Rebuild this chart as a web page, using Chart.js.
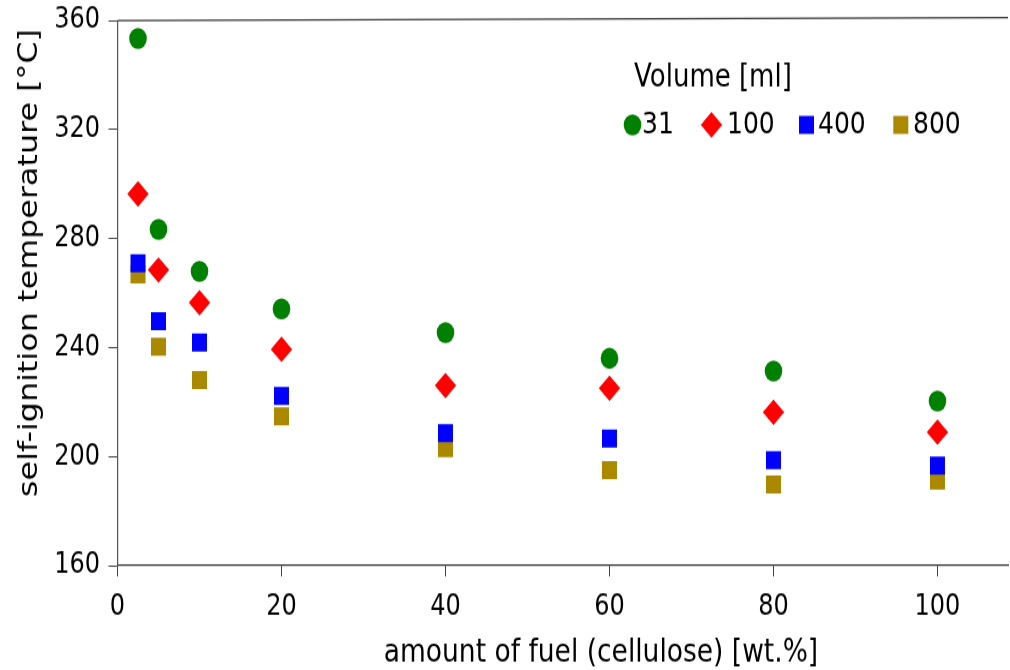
<!DOCTYPE html>
<html>
<head>
<meta charset="utf-8">
<script src="https://cdn.jsdelivr.net/npm/chart.js@4/dist/chart.umd.min.js"></script>
<style>
html, body { margin: 0; padding: 0; background: #fff; width: 1010px; height: 670px; overflow: hidden; }
#outer { position: relative; width: 1010px; height: 670px; overflow: visible; }
#wrap { position: absolute; left: 0; top: 0; width: 1010px; height: 558px; transform: scaleY(1.2007); transform-origin: 0 0; }
</style>
</head>
<body>
<div id="outer"><div id="wrap"><canvas id="chart" width="1010" height="558"></canvas></div></div>
<script>
'use strict';
let fuelAmounts = [2.5, 5, 10, 20, 40, 60, 80, 100];
let temps31  = [353.5, 283.4, 268.0, 254.2, 245.5, 236.1, 231.4, 220.4];
let temps100 = [296.4, 268.5, 256.5, 239.4, 226.1, 225.1, 216.3, 209.0];
let temps400 = [271.0, 249.7, 241.9, 222.3, 208.6, 206.6, 198.7, 196.7];
let temps800 = [266.9, 240.4, 228.1, 214.8, 203.1, 195.1, 189.8, 191.2];
let volumes = ['31', '100', '400', '800'];
let xTicks = [0, 20, 40, 60, 80, 100];
let yTicks = [160, 200, 240, 280, 320, 360];
let xTitle = 'amount of fuel (cellulose) [wt.%]';
let yTitle = 'self-ignition temperature [°C]';
let legendTitle = 'Volume [ml]';

let seriesStyle = [
    {color: '#008000', shape: 'circle',  radius: 8.8},
    {color: '#ff0000', shape: 'rectRot', radius: 10.7},
    {color: '#0000ff', shape: 'rect',    radius: 10.6},
    {color: '#aa8800', shape: 'rect',    radius: 10.6},
];
let seriesValues = [temps31, temps100, temps400, temps800];

Chart.defaults.font.family = '"DejaVu Sans", sans-serif';
Chart.defaults.color = '#000';

function makeDataset(i){
    let st = seriesStyle[i];
    return {
        label: volumes[i],
        data: fuelAmounts.map((x, k) => ({x: x, y: seriesValues[i][k]})),
        showLine: false,
        pointStyle: st.shape,
        pointRadius: st.radius,
        pointBorderWidth: 0,
        backgroundColor: st.color,
        borderColor: st.color,
    };
}

function drawMarker(ctx, shape, r, x, y){
    ctx.beginPath();
    if(shape === 'circle'){
        ctx.arc(x, y, r, 0, Math.PI * 2);
    }
    else if(shape === 'rectRot'){
        ctx.moveTo(x, y - r); ctx.lineTo(x + r, y); ctx.lineTo(x, y + r); ctx.lineTo(x - r, y);
        ctx.closePath();
    }
    else{
        let h = r * Math.SQRT1_2;
        ctx.rect(x - h, y - h, 2 * h, 2 * h);
    }
    ctx.fill();
}

let decorPlugin = {
    id: 'decor',
    afterDraw(chart){
        let ctx = chart.ctx;
        let a = chart.chartArea;
        ctx.save();
        // top frame line
        ctx.strokeStyle = '#333';
        ctx.lineWidth = 1.2;
        ctx.beginPath();
        ctx.moveTo(a.left, a.top);
        ctx.lineTo(a.right, a.top - 2.5);
        ctx.stroke();

        // axis titles
        ctx.fillStyle = '#000';
        ctx.textAlign = 'center';
        ctx.textBaseline = 'middle';
        ctx.font = '26.5px "DejaVu Sans"';
        ctx.fillText(xTitle, 601, 544);
        ctx.save();
        ctx.translate(30, 219);
        ctx.rotate(-Math.PI / 2);
        ctx.fillText(yTitle, 0, 0);
        ctx.restore();

        // legend
        ctx.font = '26px "DejaVu Sans"';
        ctx.textAlign = 'left';
        ctx.fillText(legendTitle, 634, 65);
        ctx.font = '25px "DejaVu Sans"';
        let markX = [632.5, 711.5, 806.5, 900.8];
        let textX = [642, 727, 818, 913];
        volumes.forEach((v, i) => {
            ctx.fillStyle = seriesStyle[i].color;
            drawMarker(ctx, seriesStyle[i].shape, seriesStyle[i].radius, markX[i], 104);
            ctx.fillStyle = '#000';
            ctx.fillText(v, textX[i], 104);
        });
        ctx.restore();
    }
};

let chart = new Chart(document.getElementById('chart'), {
    type: 'scatter',
    data: { datasets: volumes.map((v, i) => makeDataset(i)) },
    options: {
        responsive: false,
        animation: false,
        devicePixelRatio: 1,
        events: [],
        layout: { autoPadding: false, padding: {top: 17.2, right: 2, left: 0, bottom: 0} },
        plugins: { legend: {display: false}, tooltip: {enabled: false} },
        scales: {
            x: {
                type: 'linear',
                min: 0,
                max: 108.6,
                afterBuildTicks: scale => { scale.ticks = xTicks.map(v => ({value: v})); },
                afterFit: scale => { scale.height = 86.9; scale.paddingLeft = 0; scale.paddingRight = 0; },
                grid: { drawOnChartArea: false, drawTicks: true, tickLength: 9, color: '#444', lineWidth: 1 },
                border: { display: true, color: '#333', width: 1.2 },
                ticks: { font: {size: 24}, padding: 11, color: '#000', maxRotation: 0 },
            },
            y: {
                type: 'linear',
                min: 160,
                max: 360,
                afterBuildTicks: scale => { scale.ticks = yTicks.map(v => ({value: v})); },
                afterFit: scale => { scale.width = 117.5; scale.paddingTop = 0; scale.paddingBottom = 0; },
                grid: { drawOnChartArea: false, drawTicks: true, tickLength: 9, color: '#444', lineWidth: 1 },
                border: { display: true, color: '#555', width: 1.2 },
                ticks: { font: {size: 24}, padding: 8.5, color: '#000' },
            }
        }
    },
    plugins: [decorPlugin]
});
</script>
</body>
</html>
